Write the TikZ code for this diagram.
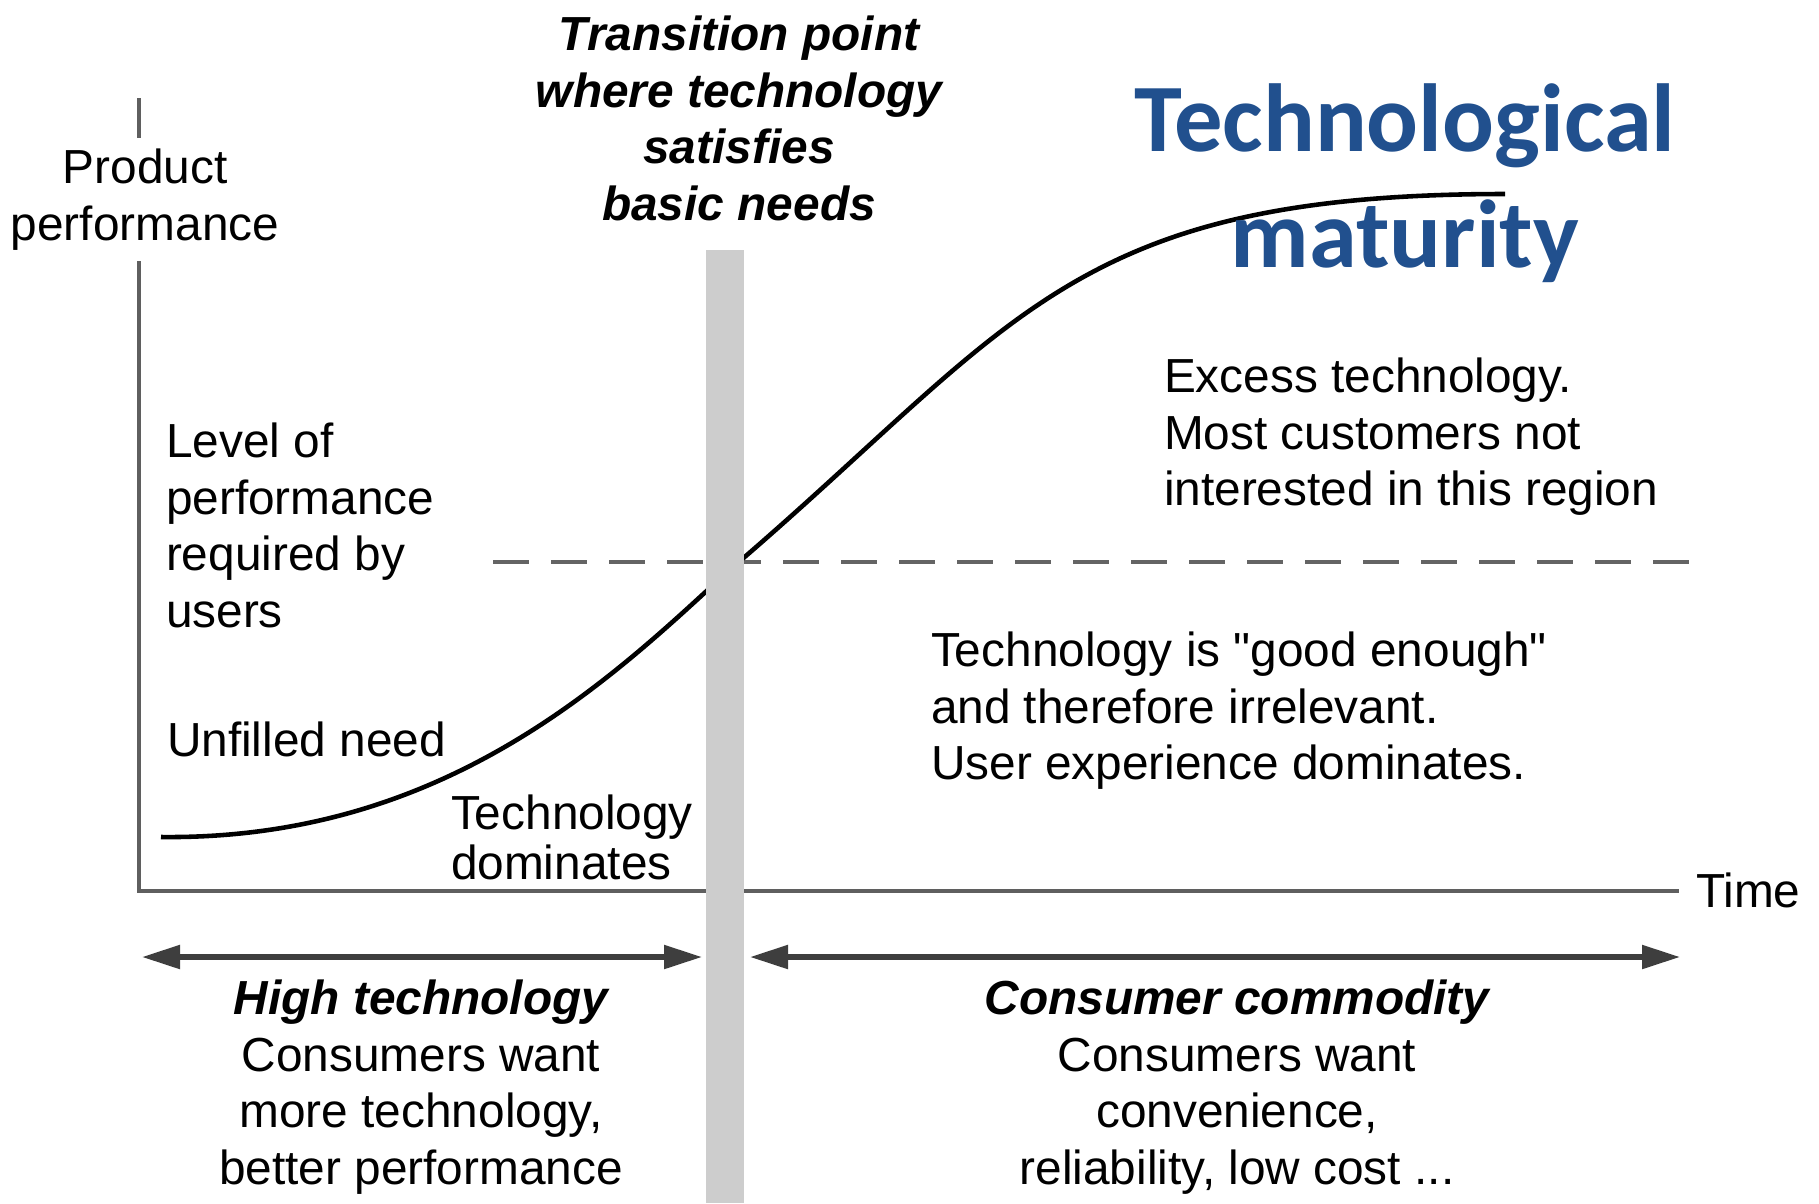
\documentclass[tikz,border=0pt]{standalone}
\usepackage{fontspec}
\setsansfont{Liberation Sans}
\newfontfamily\titlefont{Carlito}
\usetikzlibrary{arrows.meta}
\definecolor{axisgray}{RGB}{95,95,95}
\definecolor{spangray}{RGB}{62,62,62}
\definecolor{dashgray}{RGB}{100,100,100}
\definecolor{bandgray}{RGB}{205,205,205}
\definecolor{titleblue}{RGB}{33,80,142}
\tikzset{
    axisline/.style={draw=axisgray, line width=1.4pt},
    spanline/.style={draw=spangray, line width=1.5pt, {Triangle[length=3.8mm, width=2.3mm]}-{Triangle[length=3.8mm, width=2.3mm]}},
    needline/.style={draw=dashgray, line width=1.2pt, dash pattern=on 0.36cm off 0.22cm},
    curveline/.style={draw=black, line width=1.3pt},
    bandfill/.style={fill=bandgray},
    heading/.style={font=\sffamily\bfseries\itshape\fontsize{13.6}{16.1}\selectfont}
}
\begin{document}
\begin{tikzpicture}[font=\sffamily\fontsize{13.6}{16.1}\selectfont, every node/.style={inner sep=0pt, outer sep=0pt, anchor=north west, align=left}, line join=miter]
        \useasboundingbox (0,0) rectangle (18.19,-12.03);
        \coordinate (ytop) at (1.39,-0.98);
        \coordinate (origin) at (1.39,-8.91);
        \coordinate (xend) at (16.79,-8.91);
        \coordinate (needl) at (4.93,-5.62);
        \coordinate (needr) at (17.00,-5.62);
        \coordinate (hightl) at (1.42,-9.57);
        \coordinate (hightr) at (7.02,-9.57);
        \coordinate (comml) at (7.50,-9.57);
        \coordinate (commr) at (16.80,-9.57);
        \coordinate (cstart) at (1.61,-8.37);
        \coordinate (cmid) at (7.26,-5.73);
        \coordinate (cend) at (15.05,-1.94);
        \node[anchor=north, align=center, inner ysep=0.11cm] (prod) at (1.45,-1.38) {Product\\performance};
        \draw[axisline] (ytop) -- (ytop |- prod.north);
        \draw[axisline] (ytop |- prod.south) -- (origin) -- (xend);
        \draw[needline] (needl) -- (needr);
        \draw[curveline] (cstart) .. controls (4.4,-8.4) and (6.05,-6.85) .. (cmid) .. controls (10.16,-3.26) and (10.66,-1.94) .. (cend);
        \fill[bandfill] (7.06,-2.50) rectangle (7.44,-12.03);
        \draw[spanline] (hightl) -- (hightr);
        \draw[spanline] (comml) -- (commr);
        \node[heading, anchor=north, align=center] (trans) at (7.39,-0.16) {Transition point\\where technology\\satisfies\\basic needs};
        \node[anchor=north, align=center, font=\titlefont\bfseries\fontsize{27.5}{33}\selectfont, text=titleblue] (title) at (14.05,-0.84) {Technological\\maturity};
        \node (level) at (1.66,-4.23) {Level of\\performance\\required by\\users};
        \node (unfilled) at (1.67,-7.22) {Unfilled need};
        \node[font=\sffamily\fontsize{13.6}{14.2}\selectfont] (techdom) at (4.51,-7.95) {Technology\\dominates};
        \node (excess) at (11.64,-3.58) {Excess technology.\\Most customers not\\interested in this region};
        \node (enough) at (9.31,-6.32) {Technology is \textquotedbl good enough\textquotedbl\\and therefore irrelevant.\\User experience dominates.};
        \node[anchor=west] (time) at (16.96,-8.90) {Time};
        \node[anchor=north, align=center] (hightech) at (4.21,-9.80) {\bfseries\itshape High technology\\Consumers want\\more technology,\\better performance};
        \node[anchor=north, align=center] (commodity) at (12.37,-9.80) {\bfseries\itshape Consumer commodity\\Consumers want\\convenience,\\reliability, low cost ...};
\end{tikzpicture}
\end{document}
